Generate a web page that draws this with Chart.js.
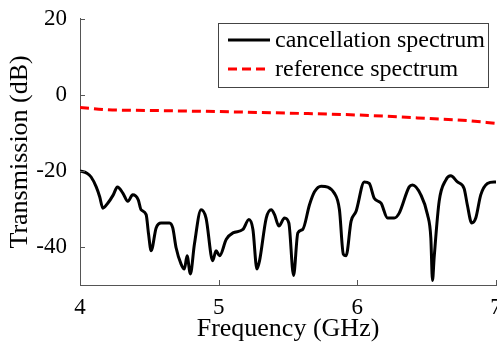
<!DOCTYPE html>
<html>
<head>
<meta charset="utf-8">
<script src="https://cdn.jsdelivr.net/npm/chart.js@4/dist/chart.umd.min.js"></script>
<style>
html,body{margin:0;padding:0;background:#fff;overflow:hidden;}
#wrap{position:relative;width:510px;height:345px;}
</style>
</head>
<body>
<div id="wrap"><canvas id="chart" width="510" height="345"></canvas></div>
<script>
/* DATA */
const freq=[4.0,4.05,4.08,4.117,4.142,4.165,4.2,4.24,4.27,4.31,4.345,4.38,4.42,4.44,4.477,4.494,4.513,4.549,4.585,4.645,4.669,4.693,4.729,4.753,4.772,4.796,4.825,4.873,4.909,4.957,4.981,5.007,5.055,5.103,5.175,5.218,5.247,5.276,5.295,5.343,5.379,5.403,5.434,5.475,5.506,5.54,5.571,5.606,5.655,5.691,5.739,5.835,5.871,5.899,5.919,5.955,5.991,6.05,6.086,6.122,6.171,6.218,6.266,6.302,6.374,6.398,6.458,6.506,6.53,6.542,6.554,6.59,6.638,6.674,6.722,6.77,6.793,6.825,6.854,6.89,6.938,6.986,7.0];
const cancel=[-20.0,-20.6,-21.6,-24.2,-26.8,-29.8,-28.5,-26.3,-24.2,-25.9,-28.0,-26.3,-27.6,-30.2,-31.5,-36.5,-41.0,-35.0,-33.7,-33.7,-35.0,-40.2,-44.5,-45.8,-42.3,-47.1,-39.3,-30.2,-32.4,-43.6,-41.0,-42.3,-38.0,-36.3,-35.4,-32.8,-35.4,-45.8,-43.6,-32.4,-30.2,-31.5,-34.5,-32.4,-33.7,-47.5,-36.3,-35.4,-28.9,-25.5,-24.0,-25.9,-30.2,-41.9,-42.3,-33.2,-30.6,-22.9,-23.3,-27.2,-28.5,-32.4,-32.4,-31.1,-24.2,-23.7,-26.3,-31.5,-37.6,-48.8,-42.8,-28.0,-22.4,-21.3,-22.9,-24.6,-28.9,-33.7,-32.4,-26.3,-23.3,-22.9,-22.9];
const refFreq=[4.0,4.2,4.5,5.0,5.5,6.0,6.3,6.5,6.8,7.0];
const reference=[-3.3,-3.9,-4.1,-4.4,-4.8,-5.3,-5.8,-6.2,-6.8,-7.5];
const xTicks=[4,5,6,7];
const yTicks=[-40,-20,0,20];

const serif="'Liberation Serif','Times New Roman',serif";
const pts=(xs,ys)=>xs.map((x,i)=>({x:x,y:ys[i]}));

/* inward tick marks, matlab style */
const inTicks={
  id:"inTicks",
  afterDraw(c){
    const {ctx,chartArea:a,scales:{x,y}}=c;
    ctx.save();
    ctx.strokeStyle="#555";ctx.lineWidth=1;
    ctx.beginPath();
    xTicks.forEach(v=>{const p=Math.round(x.getPixelForValue(v))+.5;ctx.moveTo(p,a.bottom);ctx.lineTo(p,a.bottom-5);});
    yTicks.forEach(v=>{const p=Math.round(y.getPixelForValue(v))+.5;ctx.moveTo(a.left,p);ctx.lineTo(a.left+5,p);});
    ctx.stroke();
    ctx.restore();
  }
};

/* boxed legend inside the plot */
const boxLegend={
  id:"boxLegend",
  afterDraw(c){
    const ctx=c.ctx;
    ctx.save();
    ctx.fillStyle="#fff";ctx.fillRect(218,23,271,65);
    ctx.strokeStyle="#444";ctx.lineWidth=1;ctx.strokeRect(218.5,23.5,270,64);
    c.data.datasets.forEach((d,i)=>{
      const yy=40+i*29;
      ctx.strokeStyle=d.borderColor;ctx.lineWidth=d.borderWidth;
      ctx.setLineDash(d.borderDash||[]);
      ctx.beginPath();ctx.moveTo(228,yy);ctx.lineTo(270,yy);ctx.stroke();
      ctx.setLineDash([]);
      ctx.fillStyle="#000";ctx.font="24px "+serif;ctx.textBaseline="middle";
      ctx.fillText(d.label,275,yy+1);
    });
    ctx.restore();
  }
};

new Chart(document.getElementById("chart"),{
  type:"line",
  data:{datasets:[
    {label:"cancellation spectrum",data:pts(freq,cancel),borderColor:"#000",borderWidth:3,pointRadius:0,cubicInterpolationMode:"monotone"},
    {label:"reference spectrum",data:pts(refFreq,reference),borderColor:"#ff0000",borderWidth:3,borderDash:[9,5],pointRadius:0,cubicInterpolationMode:"monotone"}
  ]},
  options:{
    responsive:false,animation:false,
    layout:{padding:{top:15,right:14,left:0,bottom:0}},
    plugins:{legend:{display:false},tooltip:{enabled:false}},
    scales:{
      x:{type:"linear",min:4,max:7,
        afterBuildTicks:s=>{s.ticks=xTicks.map(v=>({value:v}));},
        afterFit:s=>{s.height=60;},
        grid:{display:false},border:{color:"#555",width:1},
        ticks:{color:"#000",padding:1,font:{family:serif,size:23}},
        title:{display:true,text:"Frequency (GHz)",color:"#000",font:{family:serif,size:26},padding:{top:0,bottom:0}}},
      y:{min:-50,max:20,
        afterBuildTicks:s=>{s.ticks=yTicks.map(v=>({value:v}));},
        afterFit:s=>{s.width=80;},
        grid:{display:false},border:{color:"#555",width:1},
        ticks:{color:"#000",padding:5,font:{family:serif,size:23}},
        title:{display:true,text:"Transmission (dB)",color:"#000",font:{family:serif,size:26},padding:{top:5,bottom:0}}}
    }
  },
  plugins:[inTicks,boxLegend]
});
</script>
</body>
</html>
